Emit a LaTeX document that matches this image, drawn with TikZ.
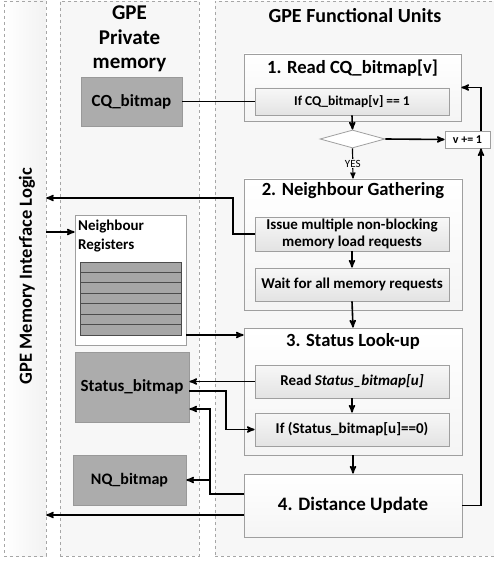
\documentclass[tikz,border=0pt]{standalone}
\usepackage{fontspec}
\setmainfont{Carlito}
\usetikzlibrary{arrows,positioning,shapes.geometric}
\tikzset{
	%Define standard arrow tip
	>=stealth',
	%Define style for the dashed lanes
	lane/.style={
		rectangle,
		draw=gray!70, dashed,
		fill=gray!6,
		inner sep=0pt},
	%Define style for the unit boxes
	unit/.style={
		rectangle,
		draw=gray!75, line width=0.8pt,
		top color=white, bottom color=gray!8,
		inner sep=0pt},
	%Define style for the steps inside a unit
	sub/.style={
		rectangle,
		draw=gray!75, line width=0.8pt,
		top color=gray!6, bottom color=gray!22,
		font=\fontsize{15}{17}\selectfont\bfseries,
		align=center,
		minimum width=194, inner sep=0pt},
	%Define style for the private memory blocks
	mem/.style={
		rectangle,
		draw=gray!80, line width=0.8pt,
		fill=gray!65,
		font=\fontsize{17}{20}\selectfont\bfseries,
		inner sep=0pt},
	head/.style={font=\fontsize{18.6}{24}\selectfont\bfseries, align=center},
	% Define arrow style
	arr/.style={
		line width=1.6pt}
}
\begin{document}
\begin{tikzpicture}[x=1pt, y=-1pt]
	\useasboundingbox (0,0) rectangle (493,561);

	% lanes
	\node[lane, minimum width=42, minimum height=555, left color=white, right color=gray!10] (mil) at (25,278.5) {};
	\node[rotate=90, head, font=\fontsize{18.5}{20}\selectfont\bfseries] (miltxt) at (27,276) {GPE Memory Interface Logic};
	\node[lane, minimum width=139, minimum height=555] (pmem) at (129.5,278.5) {};
	\node[head, font=\fontsize{21}{24.5}\selectfont\bfseries] (pmemtxt) at (129.5,39) {GPE\\Private\\memory};
	\node[lane, minimum width=290, minimum height=555] (fu) at (360,278.5) {};
	\node[head, font=\fontsize{20}{24}\selectfont\bfseries] (futxt) at (355,16) {GPE Functional Units};

	% 1. read
	\node[unit, minimum width=217, minimum height=67] (read) at (352.5,87.5) {};
	\node[head, below=3pt of read.north] (readtxt) {1. Read CQ\_bitmap[v]};
	\node[sub, minimum height=27, font=\fontsize{13.5}{16}\selectfont\bfseries] (cqif) at (352,101.5) {If CQ\_bitmap[v] == 1};
	\node[diamond, draw=gray!75, fill=white, line width=0.8pt, minimum width=65, minimum height=18, inner sep=0pt] (test) at (352.5,139) {};
	\node[rectangle, draw=gray!75, fill=white, line width=0.8pt, minimum width=45, minimum height=17, inner sep=0pt,
		font=\fontsize{12}{14}\selectfont\bfseries] (vinc) at (467.5,139.5) {v += 1};

	% 2. gather
	\node[unit, minimum width=218, minimum height=131] (gather) at (353,244.5) {};
	\node[head, below=0.5pt of gather.north] (gathertxt) {2. Neighbour Gathering};
	\node[sub, minimum height=34] (issue) at (352,234) {Issue multiple non-blocking\\memory load requests};
	\node[sub, minimum height=33] (wait) at (352,284.5) {Wait for all memory requests};

	% 3. look-up
	\node[unit, minimum width=218, minimum height=127] (lookup) at (353,391.5) {};
	\node[head, below=2pt of lookup.north] (lookuptxt) {3. Status Look-up};
	\node[sub, minimum height=33] (readst) at (352,381.5) {Read \textit{Status\_bitmap[u]}};
	\node[sub, minimum height=33] (ifst) at (352,429.5) {If (Status\_bitmap[u]==0)};

	% 4. update
	\node[unit, minimum width=218, minimum height=63, font=\fontsize{19}{24}\selectfont\bfseries] (update) at (353,505.5) {4. Distance Update};

	% private memory
	\node[mem, minimum width=101, minimum height=49] (cqbm) at (131.5,101.5) {CQ\_bitmap};
	\node[rectangle, draw=gray!75, fill=white, line width=0.8pt, minimum width=111, minimum height=130] (nbr) at (130.5,280) {};
	\node[anchor=north west, align=left, inner sep=0pt, font=\fontsize{15}{19}\selectfont\bfseries] (nbrtxt) at (78,220) {Neighbour\\Registers};
	\foreach \i in {0,...,6}
		\node[mem, draw=gray!60!black, fill=gray!70, minimum width=101, minimum height=10.43] (reg\i) at (130.5,267.2+\i*10.43) {};
	\node[mem, minimum width=114, minimum height=70] (stbm) at (132,387) {Status\_bitmap};
	\node[mem, minimum width=113, minimum height=50, font=\fontsize{16}{19}\selectfont\bfseries] (nqbm) at (129.5,480) {NQ\_bitmap};

	% connectors
	\draw[arr] (cqbm.east) -- (cqif.west);
	\draw[arr,->] (cqif.south) -- (test.north);
	\draw[arr,->] (test.east) -- (vinc.west);
	\draw[arr,->] ([xshift=13.5pt]vinc.north) |- (read.east);
	\draw[arr,->] (update.east) -| ([xshift=13.5pt]vinc.south);
	\draw[line width=1.2pt,->] (test.south) -- node[fill=gray!6, inner sep=1pt, font=\fontsize{11}{12}\selectfont] (yes) {YES} (gather.north);

	\draw[arr,->] (issue.south) -- (wait.north);
	\draw[arr,->] (wait.south) -- (lookup.north);
	\draw[arr,->] (readst.south) -- (ifst.north);
	\draw[arr,->] (lookup.south) -- (update.north);

	\draw[arr,->] (issue.west) -| (233,198) -- (mil.east |- 0,198);
	\draw[arr,->] (mil.east |- 0,232) -- (nbr.west |- 0,232);
	\draw[arr,->] (nbr.east |- 0,335) -- (lookup.west |- 0,335);
	\draw[arr,->] (readst.west) -- (stbm.east |- readst.west);
	\draw[arr,->] (stbm.east |- 0,391) -- (226,391) |- (ifst.west);
	\draw[arr,->] (update.west |- 0,494) -| (210,409) -- (stbm.east |- 0,409);
	\draw[arr,->] (210,480) -- (nqbm.east);
	\draw[arr,->] (update.west |- 0,515) -- (mil.east |- 0,515);

\end{tikzpicture}
\end{document}
